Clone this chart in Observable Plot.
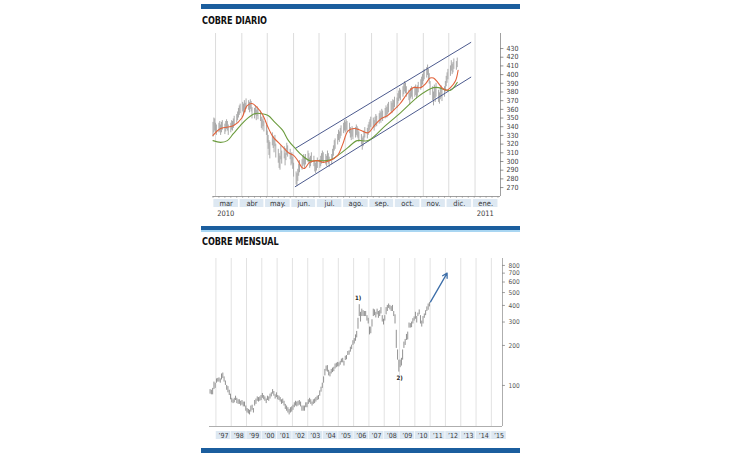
<!DOCTYPE html>
<html><head><meta charset="utf-8">
<script src="https://cdn.jsdelivr.net/npm/d3@7"></script>
<script src="https://cdn.jsdelivr.net/npm/@observablehq/plot@0.6"></script>
<style>
html,body{margin:0;padding:0;background:#fff;}
#page{position:relative;width:730px;height:460px;background:#fff;overflow:hidden;font-family:"DejaVu Sans Condensed","Liberation Sans Narrow","Arial Narrow",sans-serif;}
.band{position:absolute;left:201px;width:319px;height:5px;background:#1b5e9e;}
.title{position:absolute;left:202px;font-weight:900;font-size:10.5px;line-height:11px;color:#111;letter-spacing:-0.1px;transform:scaleX(0.86);transform-origin:0 0;white-space:nowrap;}
.chart{position:absolute;left:200px;}
</style></head>
<body><div id="page">
<div class="band" style="top:4px"></div>
<div class="title" style="top:15px">COBRE DIARIO</div>
<div class="chart" id="top" style="top:28px"></div>
<div class="band" style="top:226px;border-bottom:2px solid #a9d6f2;height:4px"></div>
<div class="title" style="top:236px">COBRE MENSUAL</div>
<div class="chart" id="bot" style="top:250px"></div>
<div class="band" style="top:448px"></div>
</div>
<script>
const fam = '"DejaVu Sans Condensed","Liberation Sans Narrow","Arial Narrow",sans-serif';

// ---------- Daily copper (c/lb), trading days from 1 Mar 2010 ----------
const dailyHi = [
 345,350,349,344,342, 344,346,342,345,347, 343,346,348,346,342, 344,347,346,349,352,
 354,357,361,364,366, 368,366,370,367,372, 370,368,371,369,362, 361,364,359,363,360,
 358,351,348,352,346, 342,335,330,324,322, 333,329,325,330,320, 314,309,306,318,312,
 317,309,315,321,318, 314,309,310,305,298, 288,286,291,297,301, 302,306,308,304,308,
 312,309,304,306,310, 306,300,298,301,304, 302,306,309,312,310, 308,306,312,309,305,
 308,314,318,324,326, 331,336,334,338,341, 344,347,345,348,346, 344,339,336,340,337,
 339,342,340,338,334, 331,327,329,335,339, 338,342,345,348,351, 350,347,351,354,352,
 355,358,356,360,358, 361,364,362,366,368, 369,367,371,370,374, 373,378,381,384,382,
 386,389,392,390,386, 382,379,384,386,383, 386,388,384,387,391, 394,397,400,404,406,
 408,411,406,401,392, 386,380,388,384,390, 382,379,385,387,383, 386,392,398,402,406,
 410,416,412,414,418, 415,419];
const dailyLo = [
 328,333,335,332,330, 333,334,330,333,336, 331,334,337,335,330, 333,336,335,338,341,
 344,347,350,353,355, 357,354,359,356,360, 359,356,360,357,349, 349,353,347,352,348,
 346,338,336,340,334, 330,321,314,307,303, 318,315,310,317,304, 298,292,290,302,297,
 303,295,301,307,305, 302,295,297,291,282, 273,271,277,283,287, 290,294,296,292,296,
 299,297,292,294,298, 294,288,286,289,292, 292,294,297,300,298, 296,294,300,297,293,
 296,302,306,312,314, 319,324,322,326,329, 332,335,333,336,334, 332,327,324,328,325,
 327,330,328,326,322, 319,313,317,323,327, 326,330,333,336,339, 338,335,339,342,340,
 343,346,344,348,346, 349,352,350,354,356, 357,355,359,358,362, 361,366,369,372,370,
 374,377,380,378,374, 370,365,372,374,371, 374,376,372,375,379, 382,385,388,392,394,
 396,399,394,389,376, 370,364,372,368,374, 368,366,371,373,369, 374,380,386,390,394,
 398,404,400,402,406, 405,408];

// short moving average (red)
const redDates = ["2010-03-01","2010-03-10","2010-03-25","2010-04-04","2010-04-10","2010-04-16","2010-04-23","2010-04-29","2010-05-05","2010-05-11","2010-05-17","2010-05-23","2010-05-29","2010-06-04","2010-06-09","2010-06-14","2010-06-17","2010-06-23","2010-07-02","2010-07-09","2010-07-17","2010-07-26","2010-08-01","2010-08-07","2010-08-14","2010-08-22","2010-08-31","2010-09-07","2010-09-15","2010-09-23","2010-09-30","2010-10-08","2010-10-16","2010-10-23","2010-11-01","2010-11-07","2010-11-12","2010-11-16","2010-11-21","2010-11-27","2010-12-02","2010-12-06","2010-12-12","2010-12-15"];
const redVals = [330,338,341,350,364,366.7,361,353,339,328,322,316,310,307,301,293,292,299,301,299,301,307,320,335,338,336,333,341,349,353,359,367,378,385,385,390,396,396,391,384,382,385,393,405];

// long moving average (green)
const greenDates = ["2010-03-01","2010-03-10","2010-03-18","2010-03-25","2010-04-02","2010-04-10","2010-04-19","2010-04-28","2010-05-05","2010-05-13","2010-05-22","2010-05-29","2010-06-06","2010-06-14","2010-06-23","2010-07-03","2010-07-13","2010-07-20","2010-07-29","2010-08-07","2010-08-18","2010-08-31","2010-09-20","2010-10-08","2010-10-28","2010-11-09","2010-11-16","2010-11-22","2010-11-28","2010-12-06","2010-12-14"];
const greenVals = [324,322,324,332,341,349,355,355,353,345,336,324,315,307,301,301,301,303,309,316,324,324,341,356,374,382,385,385,383,382,391];

// trend channel
const chanDates = ["2010-06-06","2010-12-30"];
const chanUpper = [315,437];
const chanLower = [271,397];

const monthLabels = ["mar","abr","may.","jun.","jul.","ago.","sep.","oct.","nov.","dic.","ene."];
const topYearLabels = ["2010","2011"];
const topTicks = [270,280,290,300,310,320,330,340,350,360,370,380,390,400,410,420,430];

// ---------- Monthly copper (c/lb), from Aug 1996 ----------
const monthlyLo = [
 86,85,85,93,95,
 104,106,106,104,110,113,106,100,92,88,84,78,
 74,73,74,77,73,72,72,70,71,69,69,64,
 62,61,60,63,65,62,70,72,76,75,76,77,
 80,78,76,73,77,76,79,82,86,83,79,81,
 78,77,75,72,73,70,66,64,62,60,62,63,
 65,68,70,69,70,71,69,64,64,64,68,68,
 72,74,72,70,72,73,75,77,78,83,89,95,
 104,118,128,126,118,116,122,125,127,133,136,138,
 138,142,148,148,140,154,156,168,169,178,186,200,
 205,215,228,265,330,300,330,330,330,330,305,290,
 240,245,275,330,335,322,340,320,330,345,300,285,
 305,340,360,380,370,360,360,330,290,190,155,126,
 136,140,155,190,200,218,220,270,270,272,290,305,
 315,295,330,340,290,275,290,320,335,360,368,390];
const monthlyHi = [
 93,92,95,106,104,
 112,113,114,112,122,124,116,108,100,98,92,86,
 80,78,80,83,80,78,78,76,77,75,75,70,
 67,66,65,70,71,67,77,79,82,81,82,84,
 87,84,82,79,83,82,86,88,93,90,85,88,
 84,83,81,78,79,76,72,70,68,66,68,69,
 71,74,76,75,76,77,75,70,70,70,74,74,
 78,80,78,75,78,79,81,83,84,91,97,104,
 116,132,140,141,130,126,132,135,137,145,147,149,
 148,152,158,160,152,166,168,180,182,194,201,217,
 225,240,255,320,405,355,375,365,360,360,335,320,
 275,275,312,375,370,355,375,360,365,385,335,315,
 335,385,400,410,400,392,400,360,340,260,185,155,
 155,160,185,212,222,242,252,295,292,300,318,328,
 355,330,350,370,335,305,330,345,365,390,410,420];
const yearLabels = ["’97","’98","’99","’00","’01","’02","’03","’04","’05","’06","’07","’08","’09","’10","’11","’12","’13","’14","’15"];
const botTicks = [100,200,300,400,500,600,700,800];
const notes = [{date:"2006-04-15", v:455, text:"1)"},{date:"2009-01-01", v:113, text:"2)"}];
const arrowFrom = ["2011-01-10", 425];
const arrowTo = ["2012-02-10", 700];

// ---------- build top chart ----------
const days = [];
for (let t = Date.UTC(2010,2,1); days.length < dailyHi.length; t += 864e5) {
  const wd = new Date(t).getUTCDay();
  if (wd > 0 && wd < 6) days.push(new Date(t));
}
const daily = days.map((date,i)=>({date, hi:dailyHi[i], lo:dailyLo[i]}));
const red = redDates.map((d,i)=>({date:new Date(d), v:redVals[i]}));
const green = greenDates.map((d,i)=>({date:new Date(d), v:greenVals[i]}));
const upper = chanDates.map((d,i)=>({date:new Date(d), v:chanUpper[i]}));
const lower = chanDates.map((d,i)=>({date:new Date(d), v:chanLower[i]}));
const months = d3.utcMonth.range(new Date("2010-03-01"), new Date("2011-02-01")).map((m,i)=>({start:m, end:d3.utcMonth.offset(m,1), label:monthLabels[i]}));
const topYears = [{date:new Date("2010-03-16"), label:topYearLabels[0]},{date:new Date("2011-01-16"), label:topYearLabels[1]}];
const xTop0 = new Date("2010-03-01"), xTop1 = new Date("2011-02-03");
const yTop0 = 259.7, yTop1 = 447.3;

const topChart = Plot.plot({
  width:330, height:190, marginTop:5, marginBottom:22, marginLeft:12.5, marginRight:30,
  style:{background:"transparent", fontFamily:fam, overflow:"visible"},
  x:{type:"utc", domain:[xTop0, xTop1], axis:null},
  y:{domain:[yTop0, yTop1], label:null, axis:null},
  marks:[
    Plot.ruleX(months, {x:d=>d3.utcDay.offset(d.start,3), stroke:"#dcdcdc", strokeWidth:1}),
    Plot.ruleX(d3.utcMonday.range(xTop0, xTop1), {x:d=>d, y1:yTop0, y2:yTop0-2.3, stroke:"#999", strokeWidth:0.6}),
    Plot.ruleX(daily, {x:"date", y1:"lo", y2:"hi", stroke:"#a2a2a2", strokeWidth:0.9}),
    Plot.line(upper, {x:"date", y:"v", stroke:"#4c5a8e", strokeWidth:1}),
    Plot.line(lower, {x:"date", y:"v", stroke:"#4c5a8e", strokeWidth:1}),
    Plot.line(green, {x:"date", y:"v", stroke:"#6c9c3e", strokeWidth:1.1, curve:"catmull-rom"}),
    Plot.line(red, {x:"date", y:"v", stroke:"#e2623a", strokeWidth:1.1, curve:"catmull-rom"}),
    Plot.ruleY([yTop0], {stroke:"#888", strokeWidth:0.8}),
    Plot.ruleX([xTop1], {stroke:"#888", strokeWidth:0.8}),
    Plot.ruleY(topTicks, {x1:()=>xTop1, x2:()=>d3.utcDay.offset(xTop1,4), y:d=>d, stroke:"#777", strokeWidth:0.8}),
    Plot.text(topTicks, {x:()=>xTop1, y:d=>d, text:d=>String(d), dx:6, textAnchor:"start", fontSize:7, fill:"#444"}),
    Plot.rect(months, {x1:d=>d3.utcDay.offset(d.start,1), x2:d=>d3.utcDay.offset(d.end,-1), y1:()=>256.2, y2:()=>247, fill:"#dde8f2"}),
    Plot.text(months, {x:d=>new Date((+d.start + +d.end)/2), y:()=>251.6, text:"label", fontSize:7.5, fill:"#3a3a3a"}),
    Plot.text(topYears, {x:"date", y:()=>240.1, text:"label", fontSize:7.5, fill:"#3a3a3a"})
  ]
});
document.getElementById("top").appendChild(topChart);

// ---------- build bottom chart ----------
const mStart = new Date("1996-08-01");
const monthly = monthlyLo.map((lo,i)=>({date:d3.utcDay.offset(d3.utcMonth.offset(mStart,i),14), lo, hi:monthlyHi[i]}));
const yearStarts = d3.utcYear.range(new Date("1997-01-01"), new Date("2016-01-01"));
const years = yearStarts.map((y,i)=>({start:y, label:yearLabels[i]}));
const xB0 = new Date("1996-08-01"), xB1 = new Date("2015-09-24");
const yB0 = 49.1, yB1 = 902;

const botChart = Plot.plot({
  width:330, height:192, marginTop:8, marginBottom:16, marginLeft:9, marginRight:28,
  style:{background:"transparent", fontFamily:fam, overflow:"visible"},
  x:{type:"utc", domain:[xB0, xB1], axis:null},
  y:{type:"log", domain:[yB0, yB1], label:null, axis:null},
  marks:[
    Plot.ruleX(yearStarts, {x:d=>d, stroke:"#e2e2e2", strokeWidth:1}),
    Plot.ruleX(monthly, {x:"date", y1:"lo", y2:"hi", stroke:"#929292", strokeWidth:1}),
    Plot.arrow([0], {x1:()=>new Date(arrowFrom[0]), y1:()=>arrowFrom[1], x2:()=>new Date(arrowTo[0]), y2:()=>arrowTo[1], stroke:"#3d6ea8", strokeWidth:1.3, headLength:6}),
    Plot.text(notes, {x:d=>new Date(d.date), y:"v", text:"text", fontSize:6, fontWeight:"bold", fill:"#222"}),
    Plot.ruleY([yB0], {stroke:"#999", strokeWidth:0.8}),
    Plot.ruleX([xB1], {stroke:"#999", strokeWidth:0.8}),
    Plot.ruleY(botTicks, {x1:()=>xB1, x2:()=>d3.utcDay.offset(xB1,70), y:d=>d, stroke:"#888", strokeWidth:0.8}),
    Plot.text(botTicks, {x:()=>xB1, y:d=>d, text:d=>String(d), dx:6, textAnchor:"start", fontSize:6.5, fill:"#555"}),
    Plot.rect(years, {x1:d=>d3.utcDay.offset(d.start,8), x2:d=>d3.utcDay.offset(d.start,357), y1:()=>45.05, y2:()=>39.2, fill:"#dde8f2"}),
    Plot.text(years, {x:d=>d3.utcDay.offset(d.start,182), y:()=>42.05, text:"label", fontSize:7, fill:"#3a3a3a"})
  ]
});
document.getElementById("bot").appendChild(botChart);
</script>
</body></html>
